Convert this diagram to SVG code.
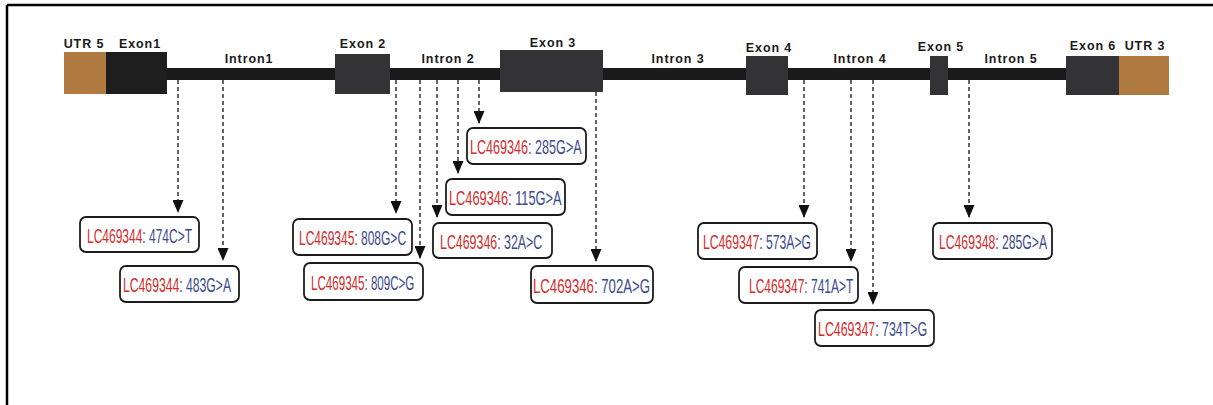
<svg xmlns="http://www.w3.org/2000/svg" width="1213" height="405" viewBox="0 0 1213 405">
<style>
.lbl{font-family:"Liberation Sans",Arial,sans-serif;font-size:12.5px;font-weight:bold;letter-spacing:0.9px;fill:#1a1a1a;text-anchor:middle}
.box{fill:#fff;stroke:#1c1c1c;stroke-width:1.8}
.vt{font-family:"Liberation Sans",Arial,sans-serif;font-size:20px}
.id{fill:#d42b2b}
.mut{fill:#3d4a8e}
.con{stroke:#111;stroke-width:1.3;stroke-dasharray:4 3;fill:none}
.exon{fill:#333336}
.utr{fill:#b07a40}
</style>
<defs>
<marker id="ah" markerUnits="userSpaceOnUse" markerWidth="13" markerHeight="11" refX="12" refY="5.5" orient="auto">
<path d="M0,0 L13,5.5 L0,11 z" fill="#111"/>
</marker>
</defs>
<rect width="1213" height="405" fill="#fff"/>
<g id="frame" stroke="#000" stroke-width="2.5">
<line x1="7" y1="5" x2="1213" y2="5"/>
<line x1="7" y1="5" x2="7" y2="405"/>
</g>
<g id="gene">
<rect x="160" y="68" width="910" height="12" fill="#1a1a1a"/>
<rect id="utr5" class="utr" x="64" y="52" width="42" height="42"/>
<rect id="exon1" x="106" y="52" width="61" height="42" fill="#1e1e1e"/>
<rect id="exon2" class="exon" x="335" y="54" width="55" height="40"/>
<rect id="exon3" class="exon" x="500" y="50" width="103" height="42"/>
<rect id="exon4" class="exon" x="746" y="56" width="42" height="39"/>
<rect id="exon5" class="exon" x="930" y="56" width="18" height="39"/>
<rect id="exon6" class="exon" x="1066" y="56" width="53" height="39"/>
<rect id="utr3" class="utr" x="1119" y="56" width="50" height="39"/>
<text class="lbl" x="84" y="48">UTR 5</text>
<text class="lbl" x="140" y="48">Exon1</text>
<text class="lbl" x="249" y="63">Intron1</text>
<text class="lbl" x="363" y="48">Exon 2</text>
<text class="lbl" x="448" y="63">Intron 2</text>
<text class="lbl" x="553" y="47">Exon 3</text>
<text class="lbl" x="678" y="63">Intron 3</text>
<text class="lbl" x="769" y="52">Exon 4</text>
<text class="lbl" x="860" y="63">Intron 4</text>
<text class="lbl" x="941" y="51">Exon 5</text>
<text class="lbl" x="1011" y="63">Intron 5</text>
<text class="lbl" x="1093" y="50">Exon 6</text>
<text class="lbl" x="1145" y="50">UTR 3</text>
</g>
<g id="connectors">
<line class="con" x1="178" y1="80" x2="178" y2="212" marker-end="url(#ah)"/>
<line class="con" x1="223" y1="80" x2="223" y2="260" marker-end="url(#ah)"/>
<line class="con" x1="396" y1="80" x2="396" y2="213" marker-end="url(#ah)"/>
<line class="con" x1="420" y1="80" x2="420" y2="258" marker-end="url(#ah)"/>
<line class="con" x1="437" y1="80" x2="437" y2="217" marker-end="url(#ah)"/>
<line class="con" x1="458" y1="80" x2="458" y2="173" marker-end="url(#ah)"/>
<line class="con" x1="479" y1="80" x2="479" y2="123" marker-end="url(#ah)"/>
<line class="con" x1="596" y1="92" x2="596" y2="261" marker-end="url(#ah)"/>
<line class="con" x1="804" y1="80" x2="804" y2="217" marker-end="url(#ah)"/>
<line class="con" x1="851" y1="80" x2="851" y2="261" marker-end="url(#ah)"/>
<line class="con" x1="873" y1="80" x2="873" y2="304" marker-end="url(#ah)"/>
<line class="con" x1="969" y1="80" x2="969" y2="217" marker-end="url(#ah)"/>
</g>
<g id="v1"><rect class="box" x="80" y="217" width="119" height="35" rx="6"/><text class="vt" transform="translate(87,243) scale(0.6,1)"><tspan class="id">LC469344</tspan><tspan class="mut">: 474C&gt;T</tspan></text></g>
<g id="v2"><rect class="box" x="120" y="266" width="119" height="36" rx="6"/><text class="vt" transform="translate(123,292) scale(0.61,1)"><tspan class="id">LC469344</tspan><tspan class="mut">: 483G&gt;A</tspan></text></g>
<g id="v3"><rect class="box" x="293" y="219" width="119" height="36" rx="6"/><text class="vt" transform="translate(299,245) scale(0.6,1)"><tspan class="id">LC469345</tspan><tspan class="mut">: 808G&gt;C</tspan></text></g>
<g id="v4"><rect class="box" x="304" y="263" width="119" height="37" rx="6"/><text class="vt" transform="translate(311,290) scale(0.58,1)"><tspan class="id">LC469345</tspan><tspan class="mut">: 809C&gt;G</tspan></text></g>
<g id="v5"><rect class="box" x="433" y="223" width="119" height="35" rx="6"/><text class="vt" transform="translate(440,249) scale(0.62,1)"><tspan class="id">LC469346</tspan><tspan class="mut">: 32A&gt;C</tspan></text></g>
<g id="v6"><rect class="box" x="446" y="179" width="119" height="36" rx="6"/><text class="vt" transform="translate(449,205) scale(0.64,1)"><tspan class="id">LC469346</tspan><tspan class="mut">: 115G&gt;A</tspan></text></g>
<g id="v7"><rect class="box" x="467" y="128" width="119" height="36" rx="6"/><text class="vt" transform="translate(470,154) scale(0.63,1)"><tspan class="id">LC469346</tspan><tspan class="mut">: 285G&gt;A</tspan></text></g>
<g id="v8"><rect class="box" x="531" y="266" width="122" height="37" rx="6"/><text class="vt" transform="translate(533,293) scale(0.66,1)"><tspan class="id">LC469346</tspan><tspan class="mut">: 702A&gt;G</tspan></text></g>
<g id="v9"><rect class="box" x="698" y="223" width="119" height="36" rx="6"/><text class="vt" transform="translate(703,249) scale(0.61,1)"><tspan class="id">LC469347</tspan><tspan class="mut">: 573A&gt;G</tspan></text></g>
<g id="v10"><rect class="box" x="739" y="267" width="119" height="36" rx="6"/><text class="vt" transform="translate(749,293) scale(0.6,1)"><tspan class="id">LC469347</tspan><tspan class="mut">: 741A&gt;T</tspan></text></g>
<g id="v11"><rect class="box" x="815" y="310" width="119" height="36" rx="6"/><text class="vt" transform="translate(818,336) scale(0.62,1)"><tspan class="id">LC469347</tspan><tspan class="mut">: 734T&gt;G</tspan></text></g>
<g id="v12"><rect class="box" x="933" y="223" width="119" height="36" rx="6"/><text class="vt" transform="translate(939,249) scale(0.61,1)"><tspan class="id">LC469348</tspan><tspan class="mut">: 285G&gt;A</tspan></text></g>
</svg>
